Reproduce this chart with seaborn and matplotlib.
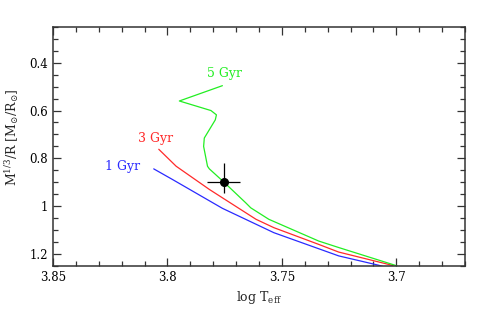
# isochrones in the log Teff vs M^(1/3)/R plane

import pandas as pd
import matplotlib.pyplot as plt
from matplotlib.ticker import MultipleLocator
import seaborn as sns

# 1 Gyr track
teff_1 = [3.806, 3.7977, 3.776, 3.7535, 3.7252, 3.7078, 3.706]
rho_1 = [0.844, 0.889, 1.009, 1.111, 1.208, 1.247, 1.252]

# 3 Gyr track
teff_3 = [3.8038, 3.7962, 3.7817, 3.776, 3.7613, 3.7535, 3.7339, 3.7252, 3.702, 3.701]
rho_3 = [0.762, 0.833, 0.930, 0.965, 1.055, 1.090, 1.160, 1.192, 1.247, 1.252]

# 5 Gyr track
teff_5 = [3.776, 3.7948, 3.781, 3.7786, 3.7791, 3.7839, 3.7842, 3.7825, 3.7817,
          3.7755, 3.7658, 3.7636, 3.7557, 3.7339, 3.7252, 3.7006, 3.6995]
rho_5 = [0.496, 0.560, 0.600, 0.618, 0.639, 0.715, 0.750, 0.833, 0.844,
         0.898, 0.986, 1.007, 1.055, 1.146, 1.173, 1.247, 1.252]

track_labels = ["1 Gyr", "3 Gyr", "5 Gyr"]
track_colors = ["#2a2aff", "#ff2a2a", "#22ee22"]
label_x = [3.8198, 3.8053, 3.7752]
label_y = [0.836, 0.715, 0.447]

# observed star
star_teff = 3.7755
star_rho = 0.898
star_teff_err = 0.0073
star_rho_err_lo = 0.08
star_rho_err_hi = 0.045


sns.set_style("ticks")
plt.rcParams["font.family"] = ["DejaVu Serif", "DejaVu Sans"]
plt.rcParams["mathtext.fontset"] = "dejavuserif"

fig = plt.figure(figsize=(4.91, 3.20), dpi=100)
ax = fig.add_axes([0.108, 0.169, 0.839, 0.747])

tracks = [(teff_1, rho_1), (teff_3, rho_3), (teff_5, rho_5)]
for (tx, ty), lab, col, lx, ly in zip(tracks, track_labels, track_colors, label_x, label_y):
    df = pd.DataFrame({"teff": tx, "rho": ty})
    sns.lineplot(x="teff", y="rho", data=df, ax=ax, sort=False, estimator=None,
                 color=col, linewidth=0.9)
    ax.text(lx, ly, lab, color=col, fontsize=9, ha="center", va="center")

ax.errorbar([star_teff], [star_rho], xerr=star_teff_err,
            yerr=[[star_rho_err_lo], [star_rho_err_hi]],
            fmt="o", color="black", markersize=5.5, elinewidth=0.9, capsize=0)

ax.set_xlim(3.85, 3.67)
ax.set_ylim(1.25, 0.25)

ax.xaxis.set_major_locator(MultipleLocator(0.05))
ax.xaxis.set_minor_locator(MultipleLocator(0.01))
ax.yaxis.set_major_locator(MultipleLocator(0.2))
ax.yaxis.set_minor_locator(MultipleLocator(0.05))
ax.set_xticks([3.85, 3.8, 3.75, 3.7])
ax.set_xticklabels(["3.85", "3.8", "3.75", "3.7"])
ax.set_yticks([0.4, 0.6, 0.8, 1.0, 1.2])
ax.set_yticklabels(["0.4", "0.6", "0.8", "1", "1.2"])

ax.tick_params(which="both", direction="in", top=True, right=True,
               colors="#333333", labelcolor="black", labelsize=8.5)
ax.tick_params(which="major", length=6, width=0.9)
ax.tick_params(which="minor", length=3.5, width=0.9)
for sp in ax.spines.values():
    sp.set_linewidth(1.1)
    sp.set_color("#333333")

ax.set_xlabel("")
ax.set_ylabel("")
fig.text(259 / 491, 1 - 297 / 320, r"log T$_{\mathregular{eff}}$", ha="center", va="center",
         fontsize=9)
fig.text(12 / 491, 1 - 137 / 320, r"M$^{1/3}$/R [M$_{\odot}$/R$_{\odot}$]",
         ha="center", va="center", rotation=90, fontsize=9)

plt.savefig("out.png", dpi=100)
plt.close()
